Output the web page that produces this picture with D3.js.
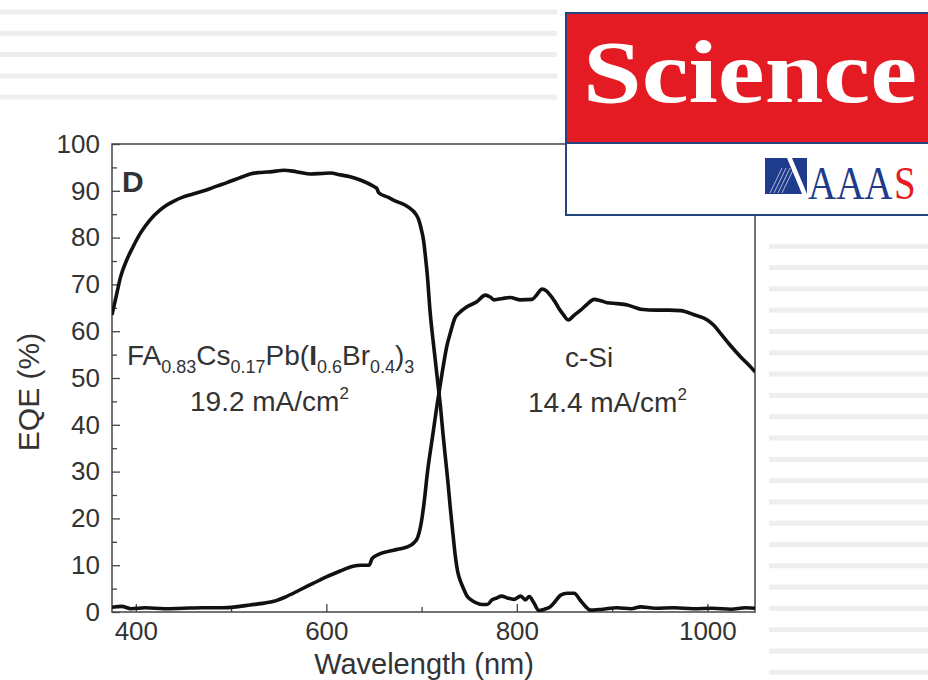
<!DOCTYPE html>
<html lang="en">
<head>
    <meta charset="UTF-8">
    <title>EQE</title>
    <script src="https://cdn.jsdelivr.net/npm/d3@7"></script>
    <style>
        body { margin: 0; background: #fff; }
        svg { display: block; }
        .tick text { font-family: "Liberation Sans", Arial, sans-serif; font-size: 26px; fill: #333; }
        .tick line { stroke: #444; stroke-width: 1.3; }
        .lbl { font-family: "Liberation Sans", Arial, sans-serif; fill: #333; }
    </style>
</head>
<body>
<script>
// perovskite top cell
const wlPvk = [375, 380, 384, 390, 397, 405, 415, 425, 433, 440, 450, 460, 468, 477, 485, 495, 503, 512, 520, 530,
    538, 547, 555, 565, 573, 583, 595, 604, 615, 625, 637, 650, 653, 655, 665, 674, 683, 690, 694, 697,
    700, 702, 704, 706, 709, 711.5, 714, 717, 720, 722.5, 725, 728, 730, 733, 735.5, 738, 741, 744, 748, 752,
    758, 764, 769, 774, 779, 784, 790, 797, 804, 809, 813, 818, 823, 829, 835, 840, 846, 853, 860, 867,
    872, 877, 890, 905, 920, 930, 945, 965, 985, 1005, 1025, 1040, 1050];
const eqePvk = [63.5, 68, 71.6, 75, 78, 81, 83.8, 85.8, 87, 87.8, 88.7, 89.3, 89.8, 90.4, 91, 91.7, 92.3, 93, 93.6, 93.9,
    94, 94.2, 94.4, 94.2, 93.9, 93.6, 93.7, 93.8, 93.4, 93, 92.2, 90.9, 90.5, 89.6, 88.6, 87.7, 86.9, 85.9, 85, 83.8,
    81.5, 79.5, 76, 72, 64, 59, 54.5, 49, 43.5, 38, 33, 27, 22.5, 16.5, 11.8, 8.5, 6.5, 5, 3.3, 2.6,
    1.9, 1.6, 1.6, 2.6, 3, 3.4, 3, 2.7, 3.4, 2.6, 3.3, 1.9, 0.3, 0.6, 1.1, 2.2, 3.6, 4, 4, 2.4,
    1.2, 0.4, 0.6, 0.9, 0.7, 1.1, 0.8, 0.9, 0.7, 0.8, 0.6, 0.9, 0.8];

// c-Si bottom cell
const wlSi = [375, 385, 395, 410, 430, 450, 470, 490, 505, 520, 535, 545, 558, 572, 586, 600, 614, 628, 636, 645,
    648, 655, 664, 675, 685, 692, 696, 700, 703, 706, 711, 716, 721.5, 726.7, 730, 735, 740, 747.7, 758, 767,
    772, 776, 785, 793, 804, 816, 821, 826.5, 831, 835, 840, 844, 849, 854, 860, 867, 874, 881, 888, 895,
    905, 916, 925, 930, 947, 960, 972, 986, 1000, 1007, 1014, 1024, 1035, 1047, 1050];
const eqeSi = [1, 1.2, 0.7, 0.9, 0.7, 0.8, 0.9, 0.9, 1.1, 1.5, 1.9, 2.3, 3.3, 4.7, 6.1, 7.5, 8.7, 9.8, 10, 10,
    11.4, 12.3, 12.9, 13.4, 13.9, 14.8, 16, 19.5, 24, 29.6, 36.8, 43.9, 51, 57, 59.5, 62.8, 64, 65.2, 66.3, 67.7,
    67.3, 66.7, 67, 67.2, 66.7, 66.8, 67.8, 69, 68.6, 67.7, 66.3, 64.9, 63.5, 62.4, 63.4, 64.5, 65.8, 66.8, 66.5, 66.1,
    65.9, 65.6, 65, 64.7, 64.5, 64.5, 64.4, 63.5, 62.4, 61.2, 59.5, 57, 54.5, 52, 51.3];

const xTicks = [400, 600, 800, 1000];
const xMinor = [500, 700, 900];
const yTicks = [0, 10, 20, 30, 40, 50, 60, 70, 80, 90, 100];
const yMinor = [5, 15, 25, 35, 45, 55, 65, 75, 85, 95];

const W = 928, H = 680;
const box = { left: 112, right: 755, top: 144, bottom: 612 };

const svg = d3.select("body").append("svg").attr("width", W).attr("height", H);

// slide background stripes
const stripeY = d3.range(0, 32).map(k => 12 + 21.3 * k);
svg.append("g").selectAll("rect").data(stripeY.filter(y => y < 110)).join("rect")
    .attr("x", 0).attr("y", d => d - 2.5).attr("width", 557).attr("height", 5).attr("fill", "#eeeeee");
svg.append("g").selectAll("rect").data(stripeY.filter(y => y > 240)).join("rect")
    .attr("x", 769).attr("y", d => d - 2.5).attr("width", W - 769).attr("height", 5).attr("fill", "#eeeeee");

const x = d3.scaleLinear().domain([375, 1050]).range([box.left, box.right]);
const y = d3.scaleLinear().domain([0, 100]).range([box.bottom, box.top]);

svg.append("clipPath").attr("id", "clip").append("rect")
    .attr("x", box.left).attr("y", box.top - 5)
    .attr("width", box.right - box.left).attr("height", box.bottom - box.top + 5);

// axes (ticks point inward)
svg.append("g").attr("transform", `translate(0,${box.bottom})`)
    .call(d3.axisBottom(x).tickValues(xTicks).tickSize(-8).tickSizeOuter(0).tickPadding(10).tickFormat(d3.format("d")));
svg.append("g").attr("transform", `translate(0,${box.bottom})`)
    .call(d3.axisBottom(x).tickValues(xMinor).tickSize(-5).tickSizeOuter(0).tickFormat(""));
svg.append("g").attr("transform", `translate(${box.left},0)`)
    .call(d3.axisLeft(y).tickValues(yTicks).tickSize(-8).tickSizeOuter(0).tickPadding(12));
svg.append("g").attr("transform", `translate(${box.left},0)`)
    .call(d3.axisLeft(y).tickValues(yMinor).tickSize(-5).tickSizeOuter(0).tickFormat(""));
svg.selectAll(".domain").remove();

svg.append("rect")
    .attr("x", box.left).attr("y", box.top)
    .attr("width", box.right - box.left).attr("height", box.bottom - box.top)
    .attr("fill", "none").attr("stroke", "#444").attr("stroke-width", 1.5);

const line = d3.line().x(d => x(d[0])).y(d => y(d[1])).curve(d3.curveMonotoneX);
const plot = svg.append("g").attr("clip-path", "url(#clip)");
[[wlPvk, eqePvk], [wlSi, eqeSi]].forEach(([w, v]) => {
    plot.append("path")
        .datum(w.map((d, i) => [d, v[i]]))
        .attr("d", line)
        .attr("fill", "none").attr("stroke", "#111").attr("stroke-width", 3.6)
        .attr("stroke-linejoin", "round");
});

// titles
svg.append("text").attr("class", "lbl").attr("x", 424).attr("y", 674)
    .attr("text-anchor", "middle").attr("font-size", 29).text("Wavelength (nm)");
svg.append("text").attr("class", "lbl").attr("transform", "translate(39,392) rotate(-90)")
    .attr("text-anchor", "middle").attr("font-size", 30).text("EQE (%)");
svg.append("text").attr("class", "lbl").attr("x", 122).attr("y", 192)
    .attr("font-size", 30).attr("font-weight", "bold").attr("fill", "#222").text("D");

// formula
const f = svg.append("text").attr("class", "lbl").attr("x", 127).attr("y", 365).attr("font-size", 28);
const parts = [["FA", 0], ["0.83", 1], ["Cs", 0], ["0.17", 1], ["Pb(", 0], ["I", 2], ["0.6", 1], ["Br", 0], ["0.4", 1], [")", 0], ["3", 1]];
let prev = 0;
parts.forEach(([t, k]) => {
    const s = f.append("tspan").text(t);
    const dy = k === 1 ? 8 : 0;
    s.attr("dy", dy - prev);
    prev = dy;
    if (k === 1) s.attr("font-size", 18);
    if (k === 2) s.attr("font-weight", "bold");
});

function current(xc, yc, val) {
    const t = svg.append("text").attr("class", "lbl").attr("x", xc).attr("y", yc).attr("font-size", 28);
    t.append("tspan").text(val + " mA/cm");
    t.append("tspan").attr("font-size", 17).attr("dy", -12).text("2");
}
current(190, 411, "19.2");
svg.append("text").attr("class", "lbl").attr("x", 565).attr("y", 367).attr("font-size", 28).text("c-Si");
current(528, 412, "14.4");

// journal logo
const logo = svg.append("g");
logo.append("rect").attr("x", 566).attr("y", 13).attr("width", 380).attr("height", 202)
    .attr("fill", "#fff").attr("stroke", "#24447f").attr("stroke-width", 2);
logo.append("rect").attr("x", 566).attr("y", 13).attr("width", 380).attr("height", 130)
    .attr("fill", "#e41b23").attr("stroke", "#24447f").attr("stroke-width", 2);
logo.append("text").attr("x", 583).attr("y", 102)
    .attr("font-family", "Liberation Serif, serif").attr("font-weight", "bold").attr("font-size", 88)
    .attr("fill", "#fff").attr("textLength", 334).attr("lengthAdjust", "spacingAndGlyphs").text("Science");
logo.append("polygon").attr("points", "765,158 787,158 802,194 765,194").attr("fill", "#1f3b8c");
logo.append("polygon").attr("points", "792,158 807,158 807,194").attr("fill", "#1f3b8c");
[0, 4, 8, 12].forEach(o => {
    logo.append("line").attr("x1", 770 + o).attr("y1", 193).attr("x2", 782 + o).attr("y2", 168)
        .attr("stroke", "#fff").attr("stroke-width", 0.8).attr("opacity", 0.8);
});
logo.append("text").attr("transform", "translate(808,199) scale(1,1.18)")
    .attr("font-family", "Liberation Serif, serif").attr("font-size", 39).attr("fill", "#1f3b8c").text("AAA");
logo.append("text").attr("transform", "translate(894,199) scale(1,1.18)")
    .attr("font-family", "Liberation Serif, serif").attr("font-size", 39).attr("fill", "#e41b23").text("S");
</script>
</body>
</html>
